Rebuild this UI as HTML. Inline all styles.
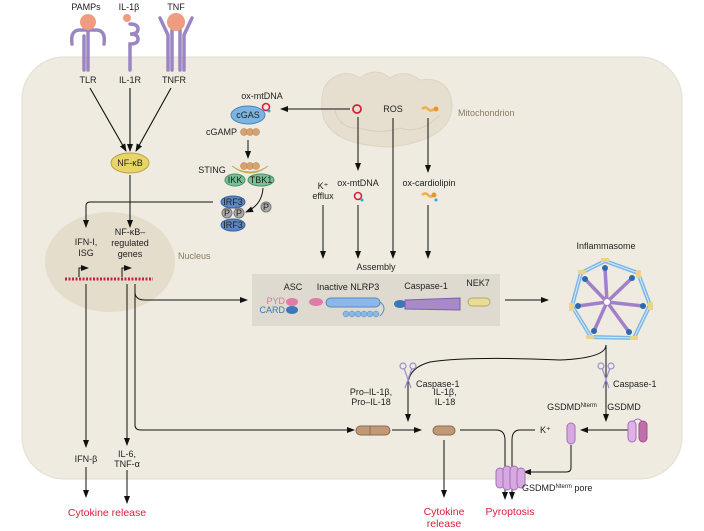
<!DOCTYPE html>
<html><head><meta charset="utf-8"><style>
html,body{margin:0;padding:0;background:#fff}
svg{display:block}
text{font-family:"Liberation Sans",sans-serif;font-size:9px;fill:#222}
.r{fill:#d8203c;font-size:10.5px}
.b{fill:#8a7a62}
</style></head><body>
<svg width="704" height="531" viewBox="0 0 704 531" xmlns="http://www.w3.org/2000/svg">
<defs>
<marker id="a" markerWidth="8" markerHeight="8" refX="7" refY="4" orient="auto" markerUnits="userSpaceOnUse"><path d="M0,1 L8,4 L0,7 Z" fill="#111"/></marker>
</defs>
<rect x="22" y="57" width="660" height="422" rx="42" fill="#efebe0" stroke="#e2ddd0"/>
<g stroke="#9a86c2" stroke-width="3.5" fill="none" stroke-linecap="round">
<path d="M72,44 Q70,30 80,30 L96,30 Q106,30 104,44"/>
<path d="M88,30 L88,70 M84,36 L84,70"/>
<path d="M130,24 q8,0 8,5 q0,5 -8,5 q8,0 8,5 q0,5 -8,5 L130,70"/>
<path d="M160,18 L168,35 L168,70 M192,18 L184,35 L184,70 M172,30 L172,70 M180,30 L180,70"/>
</g>
<circle cx="88" cy="22" r="8" fill="#ef9c80"/>
<circle cx="127" cy="18" r="4" fill="#ef9c80"/>
<circle cx="176" cy="22" r="9" fill="#ef9c80"/>
<text x="86" y="10" text-anchor="middle">PAMPs</text>
<text x="129" y="10" text-anchor="middle">IL-1β</text>
<text x="176" y="10" text-anchor="middle">TNF</text>
<text x="88" y="83" text-anchor="middle">TLR</text>
<text x="130" y="83" text-anchor="middle">IL-1R</text>
<text x="174" y="83" text-anchor="middle">TNFR</text>
<g stroke="#111" stroke-width="1.1" fill="none">
<path d="M90,88 L126,151" marker-end="url(#a)"/>
<path d="M130,88 L130,151" marker-end="url(#a)"/>
<path d="M171,88 L136,151" marker-end="url(#a)"/>
</g>
<ellipse cx="130" cy="163" rx="19" ry="10" fill="#e8d56a" stroke="#b8a040"/>
<text x="130" y="166" text-anchor="middle">NF-κB</text>
<ellipse cx="110" cy="262" rx="65" ry="50" fill="#e4ddcc"/>
<text x="178" y="259" class="b">Nucleus</text>
<text x="86" y="245" text-anchor="middle">IFN-I,</text>
<text x="86" y="256" text-anchor="middle">ISG</text>
<text x="130" y="235" text-anchor="middle">NF-κB–</text>
<text x="130" y="246" text-anchor="middle">regulated</text>
<text x="130" y="257" text-anchor="middle">genes</text>
<path d="M65,279 L153,279" stroke="#c8203c" stroke-width="3" stroke-dasharray="2 1.5"/>
<g stroke="#111" stroke-width="1" fill="none">
<path d="M79,277 L79,268 L88,268" marker-end="url(#a)"/>
<path d="M122,277 L122,268 L131,268" marker-end="url(#a)"/>
<path d="M130,175 L130,227" marker-end="url(#a)"/>
<path d="M213,202 L90,202 Q86,202 86,206 L86,227" marker-end="url(#a)"/>
<path d="M86,284 L86,447" marker-end="url(#a)"/>
<path d="M86,467 L86,497" marker-end="url(#a)"/>
<path d="M127,284 L127,445" marker-end="url(#a)"/>
<path d="M127,470 L127,503" marker-end="url(#a)"/>
<path d="M135,284 L135,292 Q135,300 145,300 L247,300" marker-end="url(#a)"/>
<path d="M135,292 L135,425 Q135,430 141,430 L354,430" marker-end="url(#a)"/>
</g>
<text x="86" y="462" text-anchor="middle">IFN-β</text>
<text x="127" y="457" text-anchor="middle">IL-6,</text>
<text x="127" y="467" text-anchor="middle">TNF-α</text>
<text x="107" y="516" text-anchor="middle" class="r">Cytokine release</text>
<path d="M330,80 Q345,68 360,78 Q375,66 390,78 Q405,68 420,80 Q450,76 452,105 Q452,140 390,147 Q325,145 322,110 Q320,88 330,80 Z" fill="#e6dfcf" stroke="#ddd5c3"/>
<path d="M335,110 Q340,130 360,128 Q380,135 400,128 Q420,135 440,115" fill="none" stroke="#d6cebb"/>
<text x="458" y="116" class="b">Mitochondrion</text>
<circle cx="357" cy="109" r="4" fill="none" stroke="#d8203c" stroke-width="1.8"/>
<text x="393" y="112" text-anchor="middle">ROS</text>
<path d="M422,109 q3,-3 6,0 q3,3 6,0" stroke="#f0b050" stroke-width="2.5" fill="none"/><circle cx="436" cy="109" r="2.5" fill="#e8962e"/>
<g stroke="#111" stroke-width="1" fill="none">
<path d="M350,109 L281,109" marker-end="url(#a)"/>
<path d="M358,117 L358,170" marker-end="url(#a)"/>
<path d="M393,118 L393,258" marker-end="url(#a)"/>
<path d="M428,118 L428,172" marker-end="url(#a)"/>
<path d="M323,205 L323,258" marker-end="url(#a)"/>
<path d="M358,205 L358,258" marker-end="url(#a)"/>
<path d="M428,205 L428,258" marker-end="url(#a)"/>
<path d="M248,140 L248,158" marker-end="url(#a)"/>
<path d="M263,188 Q262,205 246,212" marker-end="url(#a)"/>
</g>
<text x="323" y="189" text-anchor="middle">K⁺</text>
<text x="323" y="199" text-anchor="middle">efflux</text>
<text x="358" y="186" text-anchor="middle">ox-mtDNA</text>
<circle cx="358" cy="196" r="3.5" fill="none" stroke="#d8203c" stroke-width="1.6"/><circle cx="362" cy="200" r="1.5" fill="#2aa8d8"/>
<text x="429" y="186" text-anchor="middle">ox-cardiolipin</text>
<path d="M422,195 q3,-3 6,0 q3,3 6,0" stroke="#f0b050" stroke-width="2.5" fill="none"/><circle cx="434" cy="195" r="2.5" fill="#e8962e"/><circle cx="436" cy="200" r="1.5" fill="#2aa8d8"/>
<text x="376" y="270" text-anchor="middle">Assembly</text>
<text x="262" y="99" text-anchor="middle">ox-mtDNA</text>
<ellipse cx="248" cy="115" rx="17" ry="9" fill="#7bb4e0" stroke="#4a86b8"/>
<text x="248" y="118" text-anchor="middle">cGAS</text>
<circle cx="266" cy="107" r="3.5" fill="none" stroke="#d8203c" stroke-width="1.6"/><circle cx="269" cy="111" r="1.5" fill="#2aa8d8"/>
<text x="237" y="135" text-anchor="end">cGAMP</text>
<g fill="#d9a070" stroke="#b07a48" stroke-width=".5"><circle cx="244" cy="132" r="3.5"/><circle cx="250" cy="132" r="3.5"/><circle cx="256" cy="132" r="3.5"/></g>
<text x="212" y="173" text-anchor="middle">STING</text>
<path d="M232,166 Q250,180 268,166 Q260,172 250,172 Q240,172 232,166 Z" fill="#e4d070" stroke="#c0ae50"/>
<g fill="#d9a070" stroke="#b07a48" stroke-width=".5"><circle cx="244" cy="166" r="3.5"/><circle cx="250" cy="166" r="3.5"/><circle cx="256" cy="166" r="3.5"/></g>
<ellipse cx="235" cy="180" rx="10" ry="6" fill="#78c096" stroke="#4a9068"/><text x="235" y="183" text-anchor="middle" font-size="7.5">IKK</text>
<ellipse cx="261" cy="180" rx="13" ry="6" fill="#78c096" stroke="#4a9068"/><text x="261" y="183" text-anchor="middle" font-size="7.5">TBK1</text>
<ellipse cx="233" cy="202" rx="12" ry="6" fill="#5b88c0" stroke="#3a60a0"/><text x="233" y="205" text-anchor="middle" font-size="7.5">IRF3</text>
<circle cx="227" cy="213" r="5" fill="#aaa" stroke="#777"/><text x="227" y="216" text-anchor="middle" font-size="7">P</text>
<circle cx="239" cy="213" r="5" fill="#aaa" stroke="#777"/><text x="239" y="216" text-anchor="middle" font-size="7">P</text>
<ellipse cx="233" cy="225" rx="12" ry="6" fill="#5b88c0" stroke="#3a60a0"/><text x="233" y="228" text-anchor="middle" font-size="7.5">IRF3</text>
<circle cx="266" cy="207" r="5" fill="#aaa" stroke="#777"/><text x="266" y="210" text-anchor="middle" font-size="7">P</text>
<rect x="252" y="274" width="248" height="52" fill="#dedad0"/>
<text x="293" y="290" text-anchor="middle">ASC</text>
<text x="348" y="290" text-anchor="middle">Inactive NLRP3</text>
<text x="426" y="289" text-anchor="middle">Caspase-1</text>
<text x="478" y="286" text-anchor="middle">NEK7</text>
<text x="285" y="304" text-anchor="end" font-size="7.5" style="fill:#e070a0">PYD</text>
<text x="285" y="313" text-anchor="end" font-size="7.5" style="fill:#3a78b0">CARD</text>
<ellipse cx="292" cy="302" rx="6" ry="4" fill="#e07aa8"/><ellipse cx="292" cy="310" rx="6" ry="4" fill="#3a78b8"/>
<ellipse cx="316" cy="302" rx="7" ry="4" fill="#e07aa8"/>
<rect x="326" y="298" width="54" height="9" rx="4.5" fill="#8ab8e8" stroke="#5a88c0"/>
<path d="M380,302 q8,6 0,14" fill="none" stroke="#5a88c0"/>
<g fill="#8ab8e8" stroke="#5a88c0" stroke-width=".5"><circle cx="346" cy="314" r="3"/><circle cx="352" cy="314" r="3"/><circle cx="358" cy="314" r="3"/><circle cx="364" cy="314" r="3"/><circle cx="370" cy="314" r="3"/><circle cx="376" cy="314" r="3"/></g>
<ellipse cx="400" cy="304" rx="6" ry="4" fill="#3a78b8"/>
<path d="M405,300 L460,298 L460,310 L405,309 Z" fill="#a88ac8" stroke="#7a60a8"/>
<rect x="468" y="298" width="22" height="8" rx="4" fill="#e8dc98" stroke="#b8a860"/>
<path d="M505,300 L548,300" stroke="#111" stroke-width="1" marker-end="url(#a)"/>
<text x="606" y="249" text-anchor="middle">Inflammasome</text>
<polygon points="605,261 638,273 650,305 634,338 591,337 572,306 581,273" fill="none" stroke="#7ab8e8" stroke-width="4"/>
<polygon points="605,261 638,273 650,305 634,338 591,337 572,306 581,273" fill="none" stroke="#dbeaf6" stroke-width="1"/>
<g stroke="#a080c8" stroke-width="3.5">
<path d="M607,302 L605,268 M607,302 L632,278 M607,302 L643,306 M607,302 L629,332 M607,302 L594,331 M607,302 L578,306 M607,302 L585,279"/>
</g>
<circle cx="607" cy="302" r="3.5" fill="#fff" stroke="#a080c8"/>
<g fill="#2e68b0"><circle cx="605" cy="268" r="3"/><circle cx="632" cy="278" r="3"/><circle cx="643" cy="306" r="3"/><circle cx="629" cy="332" r="3"/><circle cx="594" cy="331" r="3"/><circle cx="578" cy="306" r="3"/><circle cx="585" cy="279" r="3"/></g>
<g fill="#e8d48a"><rect x="601" y="258" width="8" height="4"/><rect x="636" y="270" width="5" height="8"/><rect x="648" y="302" width="5" height="8"/><rect x="630" y="336" width="8" height="4"/><rect x="586" y="335" width="8" height="4"/><rect x="569" y="303" width="5" height="8"/><rect x="578" y="270" width="8" height="4"/></g>
<g stroke="#111" stroke-width="1" fill="none">
<path d="M606,345 Q606,358 560,360 Q470,356 430,362 Q408,368 408,385 L408,421" marker-end="url(#a)"/>
<path d="M606,345 L606,421" marker-end="url(#a)"/>
<path d="M392,430 L421,430" marker-end="url(#a)"/>
<path d="M444,440 L444,497" marker-end="url(#a)"/>
<path d="M460,430 L496,430 Q505,430 505,440 L505,499" marker-end="url(#a)"/>
<path d="M535,430 L520,430 Q512,430 512,440 L512,499" marker-end="url(#a)"/>
<path d="M628,430 L581,430" marker-end="url(#a)"/>
<path d="M571,445 L571,468 Q571,472 566,472 L524,472" marker-end="url(#a)"/>
</g>
<g stroke="#9a90c8" stroke-width="1.2" fill="none"><path d="M404,368 L411,388 M412,368 L405,388"/><circle cx="403" cy="366" r="3"/><circle cx="413" cy="366" r="3"/>
<path d="M602,368 L609,388 M610,368 L603,388"/><circle cx="601" cy="366" r="3"/><circle cx="611" cy="366" r="3"/></g>
<text x="416" y="387">Caspase-1</text>
<text x="613" y="387">Caspase-1</text>
<text x="371" y="395" text-anchor="middle">Pro–IL-1β,</text>
<text x="371" y="405" text-anchor="middle">Pro–IL-18</text>
<rect x="356" y="426" width="34" height="9" rx="4.5" fill="#c09a78" stroke="#8a6a4a"/>
<line x1="370" y1="426" x2="370" y2="435" stroke="#8a6a4a"/>
<text x="445" y="395" text-anchor="middle">IL-1β,</text>
<text x="445" y="405" text-anchor="middle">IL-18</text>
<rect x="433" y="426" width="22" height="9" rx="4.5" fill="#c09a78" stroke="#8a6a4a"/>
<text x="540" y="433">K⁺</text>
<text x="572" y="410" text-anchor="middle">GSDMD<tspan font-size="6" dy="-3">Nterm</tspan></text>
<text x="624" y="410" text-anchor="middle">GSDMD</text>
<rect x="567" y="423" width="8" height="21" rx="4" fill="#d8a8e0" stroke="#a070b8"/>
<path d="M632,423 q6,-8 11,0" fill="none" stroke="#a070b8"/>
<rect x="628" y="421" width="8" height="21" rx="4" fill="#e0b0e8" stroke="#a070b8"/>
<rect x="639" y="421" width="8" height="21" rx="4" fill="#c070a8" stroke="#a05090"/>
<g fill="#d8a8e0" stroke="#a070b8"><rect x="496" y="468" width="8" height="20" rx="4"/><rect x="503" y="466" width="8" height="24" rx="4"/><rect x="510" y="466" width="8" height="24" rx="4"/><rect x="517" y="468" width="8" height="20" rx="4"/></g>
<text x="522" y="491">GSDMD<tspan font-size="6" dy="-3">Nterm</tspan><tspan dy="3"> pore</tspan></text>
<text x="444" y="515" text-anchor="middle" class="r">Cytokine</text>
<text x="444" y="527" text-anchor="middle" class="r">release</text>
<text x="510" y="515" text-anchor="middle" class="r">Pyroptosis</text>
</svg>
</body></html>
